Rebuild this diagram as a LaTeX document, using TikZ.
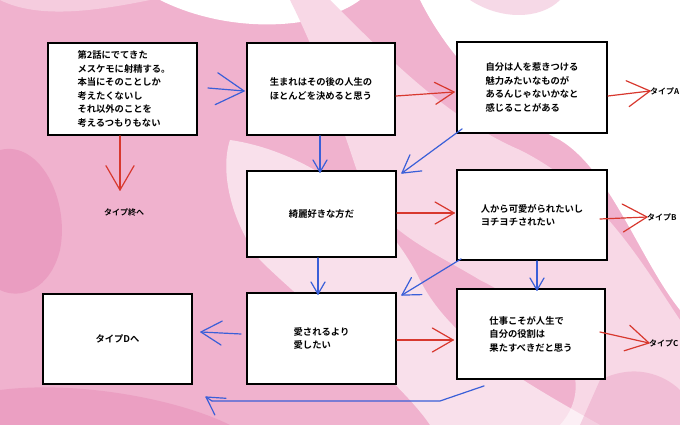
\documentclass[tikz,border=0pt]{standalone}
\usepackage{fontspec}
\newfontfamily\cjk{Noto Sans CJK JP}[BoldFont={Noto Sans CJK JP Bold}]
\usetikzlibrary{calc}
\definecolor{pinkA}{HTML}{F0B2CE}
\definecolor{pinkB}{HTML}{E484B2}
\definecolor{pinkC}{HTML}{F8D8E6}
\definecolor{arrred}{HTML}{D8382E}
\definecolor{arrblue}{HTML}{3A5FD8}
\tikzset{
  box/.style={draw=black, line width=1.8pt, fill=white, inner sep=0pt,
    font=\cjk\bfseries\fontsize{9.3}{13.5}\selectfont, align=left},
  lbl/.style={font=\cjk\bfseries\fontsize{8}{9}\selectfont, inner sep=1pt},
  redarr/.style={draw=arrred, line width=1.2pt, line cap=round, line join=round},
  bluearr/.style={draw=arrblue, line width=1.2pt, line cap=round, line join=round},
}
% [#1 arm length] #2 style, #3 start coordinate name, #4 end coordinate name
\newcommand\vconn[4][27pt]{%
  \draw[#2] (#3) -- (#4);
  \draw[#2] ($(#4)!#1!30:(#3)$) -- (#4) -- ($(#4)!#1!-30:(#3)$);}
\begin{document}
\begin{tikzpicture}[x=1pt,y=-1pt]
\useasboundingbox (0,0) rectangle (680,425);
% background
\fill[pinkA] (0,0) rectangle (680,425);
\fill[white] (160,0) .. controls (230,35) and (320,30) .. (360,0) -- cycle;
\fill[pinkC] (330,0) .. controls (390,60) and (450,120) .. (520,150) .. controls (600,190) and (640,260) .. (680,320) -- (680,425) -- (560,425) .. controls (600,380) and (560,320) .. (480,280) .. controls (430,250) and (380,230) .. (360,180) .. controls (340,120) and (320,60) .. (290,0) -- cycle;
\fill[white] (420,0) -- (680,0) -- (680,310) .. controls (640,260) and (610,170) .. (560,140) .. controls (500,110) and (450,60) .. (420,0) -- cycle;
\fill[white, opacity=0.6] (230,140) .. controls (300,150) and (380,200) .. (420,280) .. controls (450,340) and (520,380) .. (600,425) -- (430,425) .. controls (400,380) and (300,300) .. (260,260) .. controls (230,220) and (220,170) .. (230,140) -- cycle;
\fill[pinkB, opacity=0.45] (0,150) .. controls (40,140) and (70,200) .. (60,250) .. controls (50,290) and (20,300) .. (0,290) -- cycle;
\fill[pinkB, opacity=0.4] (0,390) .. controls (80,380) and (180,400) .. (230,425) -- (0,425) -- cycle;
\fill[pinkB, opacity=0.3] (600,380) .. controls (640,360) and (670,380) .. (680,390) -- (680,425) -- (580,425) -- cycle;
\fill[pinkB, opacity=0.3] (470,0) .. controls (500,20) and (540,20) .. (560,0) -- cycle;
\fill[pinkC, opacity=0.7] (0,0) .. controls (40,20) and (100,10) .. (150,0) -- cycle;

% boxes
\node[box, minimum width=149pt, minimum height=92pt] (b1) at (122.5,89) {\hspace*{3pt}第2話にでてきた\\\hspace*{3pt}メスケモに射精する。\\\hspace*{3pt}本当にそのことしか\\\hspace*{3pt}考えたくないし\\\hspace*{3pt}それ以外のことを\\\hspace*{3pt}考えるつもりもない};
\node[box, minimum width=148pt, minimum height=92pt] (b2) at (321,89) {生まれはその後の人生の\\ほとんどを決めると思う};
\node[box, minimum width=150pt, minimum height=91pt] (b3) at (532,87.5) {自分は人を惹きつける\\魅力みたいなものが\\あるんじゃないかなと\\感じることがある};
\node[box, minimum width=149pt, minimum height=86pt] (b4) at (321.5,214) {綺麗好きな方だ};
\node[box, minimum width=150pt, minimum height=90pt] (b5) at (532,215) {人から可愛がられたいし\\ヨチヨチされたい};
\node[box, minimum width=149pt, minimum height=90pt] (b6) at (117.5,339) {タイプDへ};
\node[box, minimum width=149pt, minimum height=91pt] (b7) at (321.5,338.5) {愛されるより\\愛したい};
\node[box, minimum width=148pt, minimum height=90pt] (b8) at (531,334) {仕事こそが人生で\\自分の役割は\\果たすべきだと思う};

% labels
\node[lbl, anchor=west] (tA) at (649,91) {タイプA};
\node[lbl, anchor=west] (tB) at (646,217) {タイプB};
\node[lbl, anchor=west] (tC) at (648,343) {タイプC};
\node[lbl] (tE) at (124,212) {タイプ終へ};

% connector end points
\coordinate (s12) at ([xshift=10pt]b1.east |- 0,88);
\coordinate (e12) at ([xshift=-2pt]b2.west |- 0,91);
\coordinate (s1E) at (b1.south -| 120,0);
\coordinate (e1E) at (120,190);
\coordinate (s23) at (b2.east |- 0,96);
\coordinate (e23) at ([xshift=-2pt]b3.west |- 0,92);
\coordinate (s3A) at (b3.east |- 0,96);
\coordinate (e3A) at ([xshift=1pt]tA.west);
\coordinate (s24) at (b2.south -| 320,0);
\coordinate (e24) at ([yshift=-2pt]b4.north -| 320,0);
\coordinate (s34) at ([xshift=6pt,yshift=5pt]b3.south west);
\coordinate (e34) at ([xshift=5pt,yshift=-3pt]b4.north east);
\coordinate (s45) at (b4.east |- 0,213);
\coordinate (e45) at ([xshift=-2pt]b5.west |- 0,213);
\coordinate (s5B) at ([xshift=-8pt]b5.east |- 0,219);
\coordinate (e5B) at ([xshift=1pt]tB.west);
\coordinate (s47) at (b4.south -| 318,0);
\coordinate (e47) at ([yshift=-2pt]b7.north -| 318,0);
\coordinate (s57) at ([xshift=5pt,yshift=2pt]b5.south west);
\coordinate (e57) at ([xshift=5pt,yshift=-3pt]b7.north east);
\coordinate (s58) at (b5.south -| 537,0);
\coordinate (e58) at ([yshift=-2pt]b8.north -| 537,0);
\coordinate (s76) at ([xshift=-5pt]b7.west |- 0,334);
\coordinate (e76) at ([xshift=8pt]b6.east |- 0,332);
\coordinate (s78) at (b7.east |- 0,340);
\coordinate (e78) at ([xshift=-3pt]b8.west |- 0,340);
\coordinate (s8C) at ([xshift=-6pt]b8.east |- 0,332);
\coordinate (e8C) at ([xshift=1pt]tC.west);
\coordinate (ret0) at ([xshift=28pt,yshift=-6pt]b8.south west);
\coordinate (ret1) at (440,401);
\coordinate (ret2) at (212,401);
\coordinate (ret3) at (206,397);

% arrows
\vconn[32pt]{bluearr}{s12}{e12}
\vconn[28pt]{redarr}{s1E}{e1E}
\vconn[22pt]{redarr}{s23}{e23}
\vconn[26pt]{redarr}{s3A}{e3A}
\vconn[14pt]{bluearr}{s24}{e24}
\vconn[20pt]{bluearr}{s34}{e34}
\vconn[22pt]{redarr}{s45}{e45}
\vconn[28pt]{redarr}{s5B}{e5B}
\vconn[14pt]{bluearr}{s47}{e47}
\vconn[20pt]{bluearr}{s57}{e57}
\vconn[14pt]{bluearr}{s58}{e58}
\vconn[24pt]{bluearr}{s76}{e76}
\vconn[24pt]{redarr}{s78}{e78}
\vconn[26pt]{redarr}{s8C}{e8C}
\draw[bluearr] (ret0) -- (ret1) -- (ret2);
\vconn[20pt]{bluearr}{ret2}{ret3}
\end{tikzpicture}
\end{document}
